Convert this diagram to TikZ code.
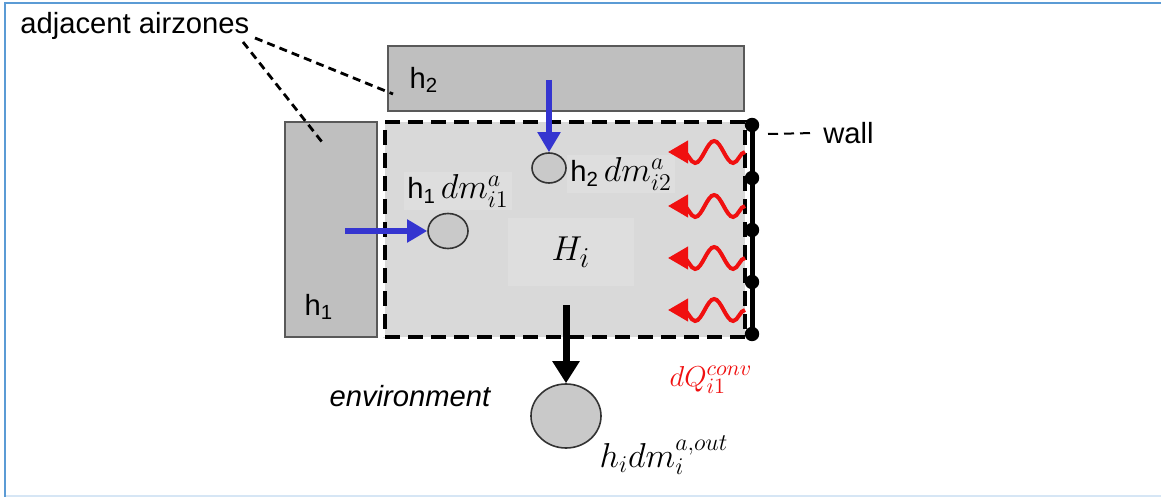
\documentclass[tikz,border=0pt]{standalone}
\usepackage{fontspec}
\setmainfont{Liberation Sans}
\usetikzlibrary{arrows.meta,shapes.geometric,decorations.pathmorphing}
\definecolor{frameblue}{HTML}{5B9BD5}
\definecolor{zonegray}{HTML}{BFBFBF}
\definecolor{roomgray}{HTML}{D9D9D9}
\definecolor{flowblue}{HTML}{3535D0}
\definecolor{heatred}{HTML}{F01010}
\newcommand\mathbig{\fontsize{17}{19}\selectfont}
\tikzset{
  zone/.style={draw=black!65, fill=zonegray, line width=0.9pt},
  room/.style={draw=black, fill=roomgray, line width=2pt, dash pattern=on 7.5pt off 4pt},
  zonelbl/.style={font=\fontsize{14.6}{17}\selectfont, inner sep=1pt},
  mathlbl/.style={font=\fontsize{14.6}{17}\selectfont, fill=black!13, inner sep=1.5pt},
  airnode/.style={ellipse, draw=black!80, fill=zonegray!85, line width=0.8pt, inner sep=0pt},
  flow/.style={line width=3pt, -{Triangle[length=10pt,width=11pt]}},
  heat/.style={heatred, line width=2pt, decorate,
    decoration={snake, amplitude=5.5pt, segment length=19pt, post length=6pt},
    -{Triangle[length=10pt,width=11pt]}},
  leader/.style={line width=1.4pt, dash pattern=on 4pt off 2.6pt}
}
\begin{document}
\begin{tikzpicture}[x=0.5pt, y=-0.5pt]
  % Frame
  \useasboundingbox (0,0) rectangle (1161,497);
  \draw[frameblue, line width=1.1pt] (5,497) -- (5,3) -- (1161,3);
  \draw[frameblue!25, line width=1pt] (6,496) -- (1161,496);
  % Zones
  \node[zone, minimum width=46pt, minimum height=107.5pt] (h1) at (331,229.5) {};
  \node[zone, minimum width=178pt, minimum height=32.5pt] (h2) at (566,78.5) {};
  \node[room, minimum width=180pt, minimum height=107.5pt] (room) at (565,229.5) {};
  \node[zonelbl] (h1lbl) at (319,307) {h\textsubscript{1}};
  \node[zonelbl] (h2lbl) at (424,80) {h\textsubscript{2}};
  \node[mathlbl, minimum width=63pt, minimum height=34pt, font=\fontsize{19}{21}\selectfont] (Hi) at (571,252) {$H_i$};
  % Air nodes
  \node[airnode, minimum width=17pt, minimum height=15pt] (c2) at (549,168) {};
  \node[airnode, minimum width=20pt, minimum height=17.5pt] (c1) at (448,231) {};
  \node[airnode, minimum width=35pt, minimum height=32pt] (cout) at (566,416) {};
  \node[mathlbl, anchor=west] (c2lbl) at (567,174) {h\textsubscript{2}\,{\mathbig$dm^a_{i2}$}};
  \node[mathlbl] (c1lbl) at (458,191) {h\textsubscript{1}\,{\mathbig$dm^a_{i1}$}};
  \node[font=\fontsize{17.5}{20}\selectfont, inner sep=1pt] (coutlbl) at (664,455) {$h_i dm_i^{a,out}$};
  % Air flows
  \coordinate (h2out) at (549,80);
  \coordinate (h1out) at (345,231);
  \coordinate (roomout) at (566,305);
  \draw[flow, flowblue] (h2out) -- (c2);
  \draw[flow, flowblue] (h1out) -- (c1);
  \draw[flow, line width=3.5pt, -{Triangle[length=11pt,width=13pt]}] (roomout) -- (cout);
  % Wall
  \foreach \i/\y in {1/125,2/178,3/230,4/282,5/334}
    \coordinate (w\i) at (752,\y);
  \draw[line width=2.5pt] (w1) -- (w5);
  \foreach \i in {1,...,5}
    \fill (w\i) circle (3.6pt);
  \node[zonelbl, anchor=west, inner sep=4pt] (walllbl) at (815,133) {wall};
  \coordinate (wallstub) at (768,134);
  \draw[leader, line width=1pt, dash pattern=on 5pt off 3pt] (wallstub) -- (walllbl.west);
  % Convective heat
  \foreach \y in {152,206,258,310}
    \draw[heat] (745,\y) -- (668,\y);
  \node[heatred, font=\fontsize{15.5}{18}\selectfont] (dQ) at (711,380) {$dQ_{i1}^{conv}$};
  % Labels
  \node[zonelbl, anchor=west] (adjlbl) at (18,26) {adjacent airzones};
  \coordinate (adj1) at (243,42);
  \coordinate (adj2) at (255,38);
  \coordinate (h1pt) at (322,142);
  \coordinate (h2pt) at (393,94);
  \draw[leader] (adj1) -- (h1pt);
  \draw[leader] (adj2) -- (h2pt);
  \node[zonelbl, font=\fontsize{14.6}{17}\selectfont\itshape] (envlbl) at (410,396) {environment};
\end{tikzpicture}
\end{document}
